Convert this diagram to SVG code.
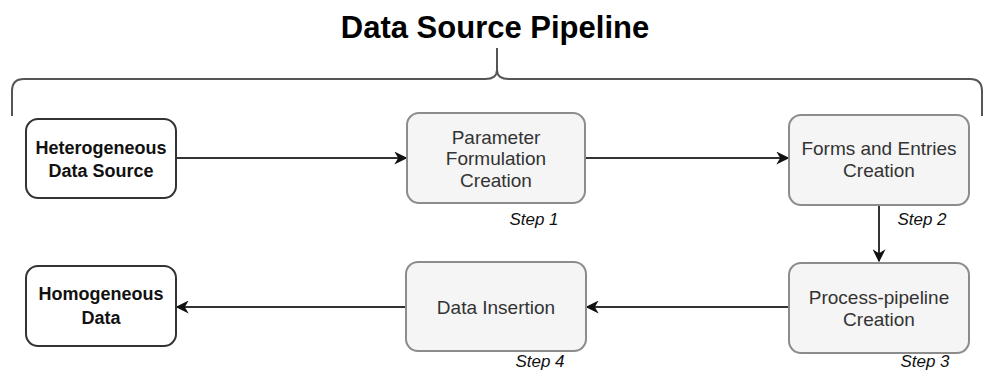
<svg xmlns="http://www.w3.org/2000/svg" width="983" height="373" viewBox="0 0 983 373">
<defs>
<style>
.io rect{fill:#ffffff;stroke:#333333;stroke-width:2}
.st rect{fill:#f5f5f5;stroke:#8c8c8c;stroke-width:2}
.io text{font-family:"Liberation Sans",Arial,sans-serif;font-size:18px;font-weight:bold;fill:#111111;text-anchor:middle}
.st text{font-family:"Liberation Sans",Arial,sans-serif;font-size:19px;fill:#333333;text-anchor:middle}
.step{font-family:"Liberation Sans",Arial,sans-serif;font-size:17px;font-style:italic;fill:#111111;text-anchor:middle}
.edge{stroke:#333333;stroke-width:2;fill:none;marker-end:url(#ah)}
</style>
<marker id="ah" viewBox="0 0 10 10" refX="9" refY="5" markerWidth="6.5" markerHeight="6.5" markerUnits="strokeWidth" orient="auto">
<path d="M0,0 L10,5 L0,10 L3,5 Z" fill="#111111"/>
</marker>
</defs>
<rect width="983" height="373" fill="#ffffff"/>
<text x="495" y="38" font-family="Liberation Sans,Arial,sans-serif" font-size="31" font-weight="bold" text-anchor="middle" fill="#000000">Data Source Pipeline</text>
<path id="brace" d="M12,116 L12,91 Q12,79 24,79 L485,79 Q497,79 497,70 L497,48 M497,70 Q497,79 509,79 L970,79 Q982,79 982,91 L982,116" fill="none" stroke="#555555" stroke-width="2"/>
<g id="connectors">
<path class="edge" d="M176,158 L406,158"/>
<path class="edge" d="M585,158 L788,158"/>
<path class="edge" d="M879,205 L879,261"/>
<path class="edge" d="M789,307 L587,307"/>
<path class="edge" d="M406,307 L177,307"/>
</g>
<g id="hetero" class="io">
<rect x="26" y="119" width="150" height="79" rx="12"/>
<text x="101" y="154">Heterogeneous</text>
<text x="101" y="177">Data Source</text>
</g>
<g id="param" class="st">
<rect x="407" y="113" width="178" height="90" rx="12"/>
<text x="496" y="144">Parameter</text>
<text x="496" y="165">Formulation</text>
<text x="496" y="187">Creation</text>
</g>
<g id="forms" class="st">
<rect x="789" y="115" width="180" height="90" rx="12"/>
<text x="879" y="155">Forms and Entries</text>
<text x="879" y="177">Creation</text>
</g>
<g id="process" class="st">
<rect x="789" y="263" width="180" height="90" rx="12"/>
<text x="879" y="304">Process-pipeline</text>
<text x="879" y="326">Creation</text>
</g>
<g id="insert" class="st">
<rect x="406" y="262" width="180" height="89" rx="12"/>
<text x="496" y="314">Data Insertion</text>
</g>
<g id="homo" class="io">
<rect x="26" y="266" width="150" height="80" rx="12"/>
<text x="101" y="300">Homogeneous</text>
<text x="101" y="324">Data</text>
</g>
<g id="steps">
<text class="step" x="534" y="225">Step 1</text>
<text class="step" x="922" y="225">Step 2</text>
<text class="step" x="925" y="367">Step 3</text>
<text class="step" x="540" y="367">Step 4</text>
</g>
</svg>
